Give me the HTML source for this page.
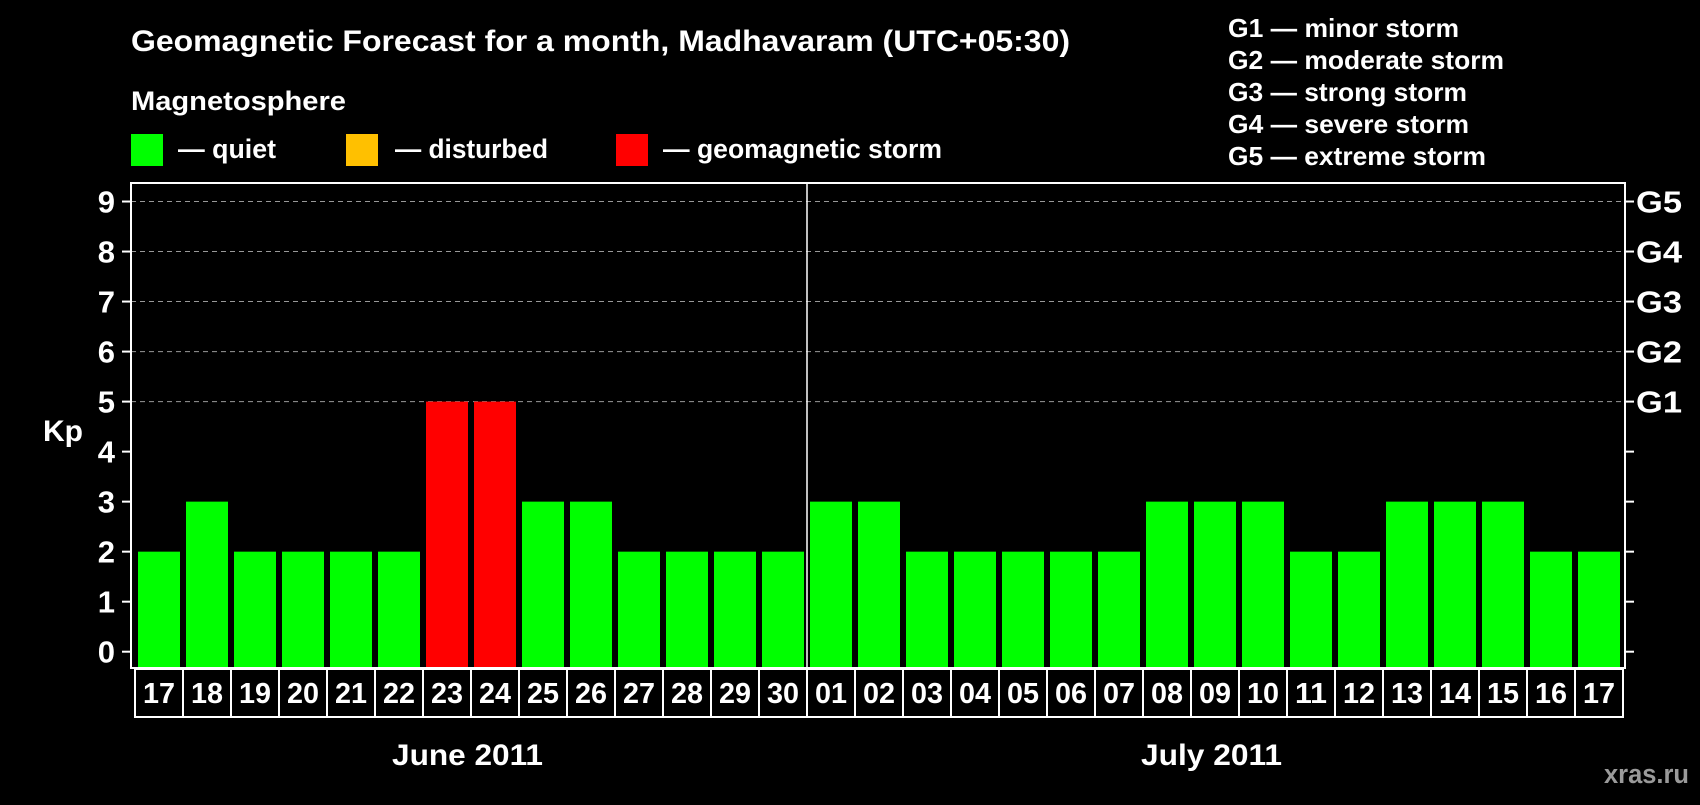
<!DOCTYPE html>
<html><head><meta charset="utf-8"><style>
html,body{margin:0;padding:0;background:#000;}
svg text{font-family:"Liberation Sans",Arial,sans-serif;font-weight:bold;fill:#fff;}
</style></head><body>
<svg id="chart" width="1700" height="800" viewBox="0 0 1700 800">
<rect x="0" y="0" width="1700" height="800" fill="#000"/>
<text x="131" y="51" font-size="30" textLength="939" lengthAdjust="spacingAndGlyphs">Geomagnetic Forecast for a month, Madhavaram (UTC+05:30)</text>
<text x="131" y="110" font-size="27" textLength="215" lengthAdjust="spacingAndGlyphs">Magnetosphere</text>
<g><rect x="131" y="134" width="32" height="32" fill="#00ff00"/><text x="178" y="158" font-size="27" textLength="98" lengthAdjust="spacingAndGlyphs">— quiet</text></g>
<g><rect x="346" y="134" width="32" height="32" fill="#ffc000"/><text x="395" y="158" font-size="27" textLength="153" lengthAdjust="spacingAndGlyphs">— disturbed</text></g>
<g><rect x="616" y="134" width="32" height="32" fill="#ff0000"/><text x="663" y="158" font-size="27" textLength="279" lengthAdjust="spacingAndGlyphs">— geomagnetic storm</text></g>
<g font-size="26">
<text x="1228" y="37" textLength="231" lengthAdjust="spacingAndGlyphs">G1 — minor storm</text>
<text x="1228" y="69" textLength="276" lengthAdjust="spacingAndGlyphs">G2 — moderate storm</text>
<text x="1228" y="101" textLength="239" lengthAdjust="spacingAndGlyphs">G3 — strong storm</text>
<text x="1228" y="133" textLength="241" lengthAdjust="spacingAndGlyphs">G4 — severe storm</text>
<text x="1228" y="165" textLength="258" lengthAdjust="spacingAndGlyphs">G5 — extreme storm</text>
</g>
<g id="grid"></g>
<g id="bars"></g>
<rect x="131" y="183" width="1494" height="485" fill="none" stroke="#fff" stroke-width="2"/>
<line x1="807" y1="183" x2="807" y2="668" stroke="#fff" stroke-width="1.5"/>
<g id="axes"></g>
<g id="dates"></g>
<text x="43" y="441" font-size="30" textLength="40" lengthAdjust="spacingAndGlyphs">Kp</text>
<text x="392" y="765" font-size="30" textLength="151" lengthAdjust="spacingAndGlyphs">June 2011</text>
<text x="1141" y="765" font-size="30" textLength="141" lengthAdjust="spacingAndGlyphs">July 2011</text>
<text x="1604" y="783" font-size="27" textLength="85" lengthAdjust="spacingAndGlyphs" style="fill:#9a9a9a">xras.ru</text>
</svg>
<script>
const days = ["17","18","19","20","21","22","23","24","25","26","27","28","29","30","01","02","03","04","05","06","07","08","09","10","11","12","13","14","15","16","17"];
const kpValues = [2,3,2,2,2,2,5,5,3,3,2,2,2,2,3,3,2,2,2,2,2,3,3,3,2,2,3,3,3,2,2];
const yTicks = [0,1,2,3,4,5,6,7,8,9];
const gLabels = ["G1","G2","G3","G4","G5"];
const gLevels = [5,6,7,8,9];

const NS="http://www.w3.org/2000/svg";
const y0=651.7, unit=50.02, plotBottom=668, cellX0=135, cellW=48;
const yS=v=>y0-v*unit;
const xS=i=>cellX0+i*cellW;
function mk(tag,attrs,parent,txt){const e=document.createElementNS(NS,tag);for(const k in attrs)e.setAttribute(k,attrs[k]);if(txt!==undefined)e.textContent=txt;parent.appendChild(e);return e;}
const grid=document.getElementById('grid'),bars=document.getElementById('bars'),axes=document.getElementById('axes'),dates=document.getElementById('dates');
yTicks.forEach(v=>{
  const y=yS(v);
  if(v>=5){const l=mk('line',{x1:131,x2:1625,y1:y,y2:y,stroke:'#999','stroke-dasharray':'5,4','stroke-width':1},grid);
  
  }
  const t1=mk('line',{x1:122,x2:131,y1:y,y2:y,stroke:'#fff','stroke-width':2},axes);
  
  
  const t2=mk('line',{x1:1625,x2:1634,y1:y,y2:y,stroke:'#fff','stroke-width':2},axes);
  
  
  const tl=mk('text',{x:115,y:y+11,'font-size':31,'text-anchor':'end'},axes,String(v));
  
  
});
gLevels.forEach((lv,i)=>{
  const t=mk('text',{x:1636,y:yS(lv)+11,'font-size':31,textLength:46,lengthAdjust:'spacingAndGlyphs'},axes,gLabels[i]);
  
  
});
kpValues.forEach((v,i)=>{
  const c=v>=5?'#ff0000':(v>=4?'#ffc000':'#00ff00');
  const top=yS(v);
  const b=mk('rect',{x:xS(i)+3,y:top,width:42,height:plotBottom-top,fill:c},bars);
  
  
});
days.forEach((d,i)=>{
  const r=mk('rect',{x:xS(i),y:669,width:cellW,height:48,fill:'none',stroke:'#fff','stroke-width':2},dates);
  
  
  const t=mk('text',{x:xS(i)+8,y:703,'font-size':29,textLength:32,lengthAdjust:'spacingAndGlyphs'},dates,d);
  
  
});
</script>
</body></html>
